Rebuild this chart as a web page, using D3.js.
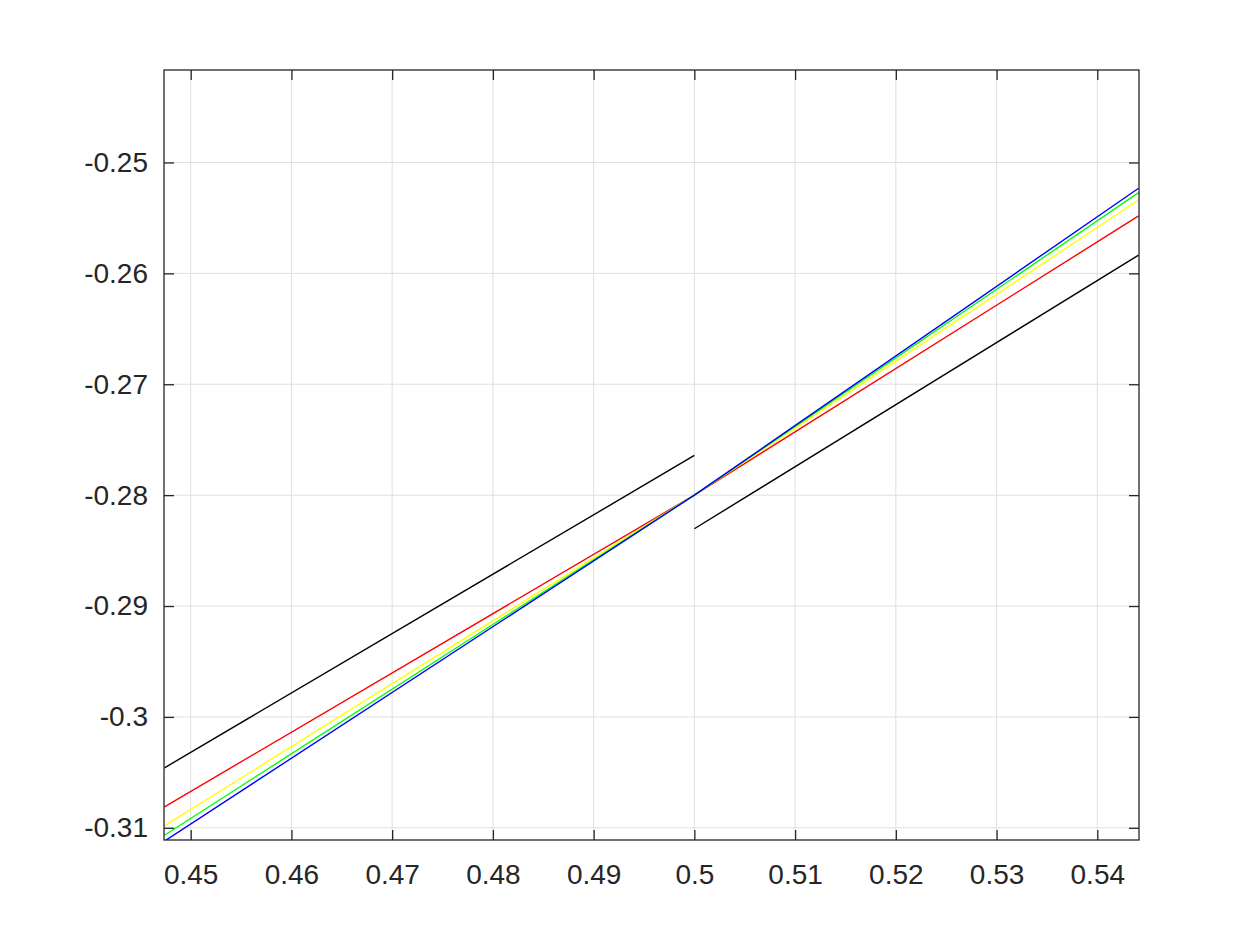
<!DOCTYPE html>
<html>
<head>
<meta charset="utf-8">
<script src="https://cdn.jsdelivr.net/npm/d3@7"></script>
<style>
  body { margin: 0; background: #fff; }
  text { font-family: "Liberation Sans", Arial, Helvetica, sans-serif; }
</style>
</head>
<body>
<div id="chart"></div>
<script>
// x samples: left edge, the jump at 0.5, right edge
const xLeft = [0.4474, 0.5];
const xRight = [0.5, 0.5441];
const xAll = [0.4474, 0.5, 0.5441];

// y values
const blackLeft = [-0.30459, -0.27642];
const blackRight = [-0.28303, -0.25836];
const redVals = [-0.30811, -0.28, -0.25482];
const yellowVals = [-0.30982, -0.28, -0.25338];
const greenVals = [-0.31067, -0.28, -0.25272];
const blueVals = [-0.3112, -0.28, -0.25232];

const xTicks = [0.45, 0.46, 0.47, 0.48, 0.49, 0.5, 0.51, 0.52, 0.53, 0.54];
const yTicks = [-0.31, -0.3, -0.29, -0.28, -0.27, -0.26, -0.25];

var width = 1260, height = 945;
var mLeft = 164, mRight = 1139, mTop = 70, mBottom = 840;

var svg = d3.select('#chart').append('svg')
    .attr('width', width).attr('height', height);

var x = d3.scaleLinear().domain([0.44735, 0.54414]).range([mLeft, mRight]);
var y = d3.scaleLinear().domain([-0.3111, -0.24166]).range([mBottom, mTop]);

svg.append('defs').append('clipPath')
    .attr('id', 'clip')
    .append('rect')
    .attr('x', mLeft).attr('y', mTop)
    .attr('width', mRight - mLeft).attr('height', mBottom - mTop);

// grid
svg.append('g').selectAll('line')
    .data(xTicks).enter().append('line')
    .attr('x1', d => x(d)).attr('x2', d => x(d))
    .attr('y1', mTop).attr('y2', mBottom)
    .attr('stroke', '#dfdfdf').attr('stroke-width', 1);
svg.append('g').selectAll('line')
    .data(yTicks).enter().append('line')
    .attr('y1', d => y(d)).attr('y2', d => y(d))
    .attr('x1', mLeft).attr('x2', mRight)
    .attr('stroke', '#dfdfdf').attr('stroke-width', 1);

// lines
var plot = svg.append('g').attr('clip-path', 'url(#clip)');
var line = d3.line().x(d => x(d[0])).y(d => y(d[1]));
const series = [
    {xs: xLeft, ys: blackLeft, c: '#000000'},
    {xs: xRight, ys: blackRight, c: '#000000'},
    {xs: xAll, ys: redVals, c: '#ff0000'},
    {xs: xAll, ys: yellowVals, c: '#ffff00'},
    {xs: xAll, ys: greenVals, c: '#00ff00'},
    {xs: xAll, ys: blueVals, c: '#0000ff'}
];
series.forEach((s) => {
    plot.append('path')
        .datum(s.xs.map((v, i) => [v, s.ys[i]]))
        .attr('d', line)
        .attr('fill', 'none')
        .attr('stroke', s.c)
        .attr('stroke-width', 1.4);
});

// axes
function style(g) {
    g.select('.domain').remove();
    g.selectAll('.tick line').attr('stroke', '#262626').attr('stroke-width', 1.3);
    g.selectAll('.tick text').attr('fill', '#262626').style('font-size', '28px');
}
var fmt = (d) => String(d); // plain hyphen minus, like the original
svg.append('g').attr('transform', `translate(0,${mBottom})`)
    .call(d3.axisBottom(x).tickValues(xTicks).tickFormat(fmt).tickSize(-10).tickPadding(24))
    .call(style);
svg.append('g').attr('transform', `translate(0,${mTop})`)
    .call(d3.axisTop(x).tickValues(xTicks).tickFormat('').tickSize(-10))
    .call(style);
svg.append('g').attr('transform', `translate(${mLeft},0)`)
    .call(d3.axisLeft(y).tickValues(yTicks).tickFormat(fmt).tickSize(-10).tickPadding(16))
    .call(style);
svg.append('g').attr('transform', `translate(${mRight},0)`)
    .call(d3.axisRight(y).tickValues(yTicks).tickFormat('').tickSize(-10))
    .call(style);

svg.append('rect')
    .attr('x', mLeft).attr('y', mTop)
    .attr('width', mRight - mLeft).attr('height', mBottom - mTop)
    .attr('fill', 'none').attr('stroke', '#262626').attr('stroke-width', 1.3);
</script>
</body>
</html>
